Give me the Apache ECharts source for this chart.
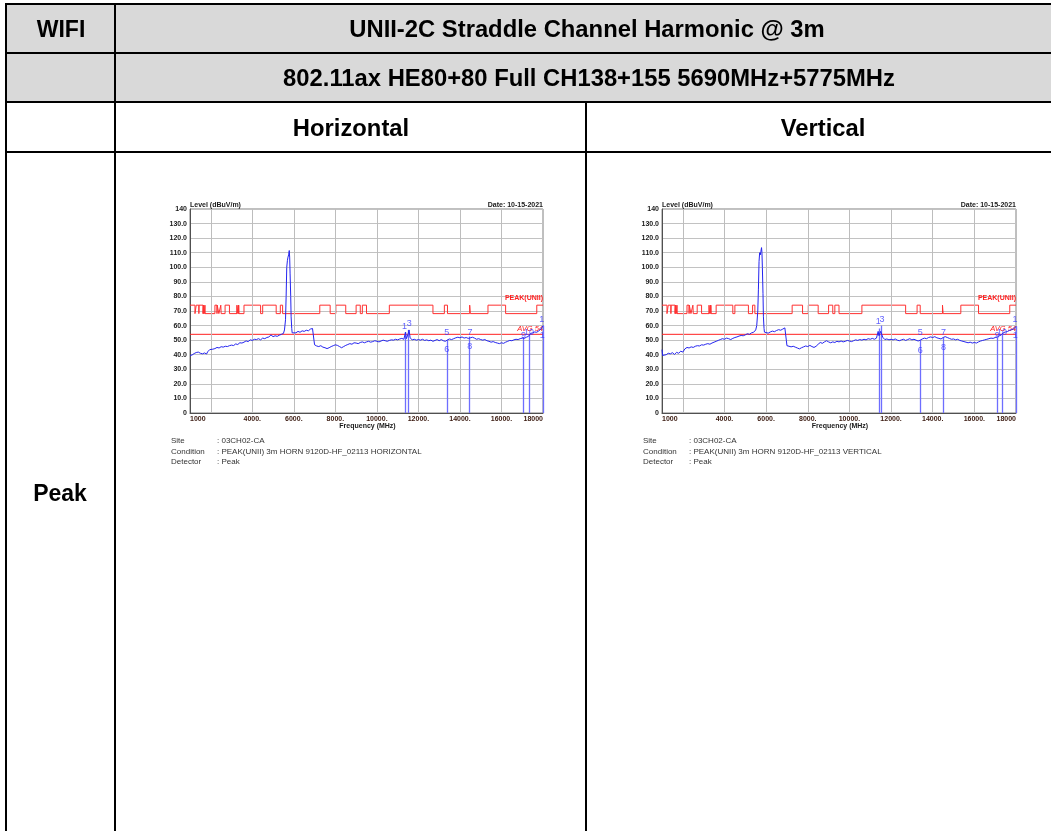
<!DOCTYPE html>
<html><head><meta charset="utf-8">
<script src="https://cdn.jsdelivr.net/npm/echarts@6/dist/echarts.min.js"></script>
<style>html,body{margin:0;padding:0;background:#fff;}#c{width:1051px;height:831px;}</style>
</head><body><div id="c"></div>
<script>
// ---------- data ----------
const freqTickLabels = {1000:'1000',4000:'4000.',6000:'6000.',8000:'8000.',10000:'10000.',12000:'12000.',14000:'14000.',16000:'16000.',18000:'18000'};
const gridFreqs = [2000,4000,6000,8000,10000,12000,14000,16000];
const levelTickLabels = ['0','10.0','20.0','30.0','40.0','50.0','60.0','70.0','80.0','90.0','100.0','110.0','120.0','130.0','140'];
const restrictedBands = [[1000,1240],[1300,1427],[1435,1626.5],[1645.5,1646.5],[1660,1710],[1718.8,1722.2],[2200,2300],[2310,2390],[2483.5,2500],[2690,2900],[3260,3267],[3332,3339],[3345.8,3358],[3600,4400],[4500,5150],[5350,5460],[7250,7750],[8025,8500],[9000,9200],[9300,9500],[10600,12700],[13250,13400],[14470,14500],[15350,16200],[17700,18000]];
const peakLimit = 74, outBandLimit = 68.2, avgLimit = 54;

const traceH = [[1000,39.5],[1050,40.5],[1100,39.8],[1200,40.8],[1300,41.5],[1400,41.8],[1500,41.0],[1600,40.6],[1700,41.2],[1800,40.5],[1850,42.0],[1900,41.4],[1950,43.5],[2000,42.6],[2100,43.8],[2200,44.2],[2300,45.0],[2400,44.6],[2500,45.5],[2600,45.2],[2700,45.8],[2800,45.6],[2900,46.2],[3000,46.6],[3100,46.3],[3200,47.4],[3300,47.0],[3400,48.2],[3500,48.0],[3600,48.6],[3700,49.5],[3800,49.0],[3900,50.2],[4000,49.8],[4100,50.6],[4200,50.4],[4300,51.0],[4400,50.2],[4500,51.4],[4600,51.0],[4700,51.8],[4800,52.2],[4900,53.6],[5000,52.4],[5100,53.0],[5200,52.6],[5300,53.4],[5400,54.0],[5450,53.6],[5500,54.6],[5550,57.0],[5600,64.0],[5630,80.0],[5660,100.0],[5690,104.5],[5720,107.0],[5750,108.5],[5780,111.5],[5800,107.0],[5820,96.0],[5850,80.0],[5870,66.0],[5900,58.0],[5920,55.0],[5950,54.6],[6000,55.6],[6100,55.0],[6200,56.0],[6300,55.4],[6400,56.4],[6500,56.0],[6600,56.8],[6700,56.4],[6800,57.6],[6900,58.0],[6950,57.2],[6970,50.0],[7000,46.8],[7100,46.0],[7200,45.6],[7300,46.2],[7400,45.2],[7500,44.8],[7600,44.2],[7700,44.8],[7800,45.6],[7900,46.2],[8000,46.8],[8100,46.4],[8200,45.6],[8300,44.8],[8400,45.6],[8500,46.4],[8600,47.0],[8700,47.6],[8800,47.2],[8900,48.2],[9000,48.0],[9100,47.6],[9200,48.4],[9300,48.8],[9400,48.2],[9500,48.8],[9600,49.2],[9700,48.6],[9800,49.0],[9900,49.6],[10000,49.2],[10100,48.8],[10200,49.4],[10300,50.0],[10400,49.6],[10500,49.2],[10600,49.8],[10700,50.2],[10800,50.0],[10900,50.6],[11000,50.2],[11100,50.8],[11200,51.2],[11300,50.6],[11380,55.5],[11420,51.0],[11500,54.0],[11550,57.0],[11600,51.6],[11700,50.2],[11800,50.6],[11900,50.0],[12000,50.4],[12100,50.0],[12200,50.6],[12300,49.8],[12400,50.2],[12500,49.6],[12600,50.0],[12700,49.2],[12800,49.8],[12900,50.4],[13000,49.6],[13100,50.4],[13200,49.6],[13300,49.2],[13400,50.2],[13500,50.8],[13600,50.4],[13700,51.0],[13800,51.6],[13900,52.0],[14000,51.6],[14100,52.2],[14200,51.4],[14300,51.8],[14400,51.2],[14470,52.5],[14500,51.6],[14600,52.0],[14700,51.4],[14800,50.6],[14900,51.0],[15000,50.4],[15100,50.0],[15200,50.4],[15300,49.6],[15400,49.2],[15500,48.6],[15600,49.0],[15700,48.4],[15800,48.0],[15900,47.6],[16000,48.2],[16100,47.8],[16200,48.6],[16300,49.2],[16400,49.8],[16500,49.6],[16600,50.2],[16700,50.6],[16800,50.4],[16900,51.0],[17000,51.4],[17070,52.0],[17100,51.2],[17200,52.0],[17300,52.6],[17350,53.8],[17400,54.6],[17500,55.0],[17600,55.6],[17700,55.4],[17800,56.4],[17900,57.6],[17950,58.8],[18000,60.0]];

const traceV = [[1000,43.5],[1030,39.5],[1100,40.6],[1200,40.0],[1300,41.0],[1400,40.6],[1500,41.4],[1600,40.2],[1700,41.6],[1800,41.0],[1900,42.4],[2000,41.8],[2100,44.0],[2200,45.0],[2300,44.6],[2400,45.4],[2500,45.0],[2600,45.8],[2700,46.2],[2800,46.0],[2900,46.8],[3000,46.6],[3100,47.2],[3200,47.6],[3300,47.2],[3400,48.0],[3500,48.6],[3600,49.2],[3700,49.8],[3800,50.4],[3900,51.0],[4000,50.6],[4100,51.4],[4200,51.0],[4300,50.4],[4400,51.2],[4500,51.8],[4600,52.2],[4700,52.8],[4800,53.2],[4900,53.0],[5000,53.6],[5100,54.4],[5200,54.0],[5300,55.0],[5400,55.4],[5450,56.0],[5500,57.0],[5550,60.0],[5600,70.0],[5630,85.0],[5660,104.0],[5690,110.0],[5720,108.5],[5750,111.0],[5780,113.5],[5800,110.0],[5820,100.0],[5850,82.0],[5870,66.0],[5900,58.0],[5920,55.5],[5950,54.8],[6000,55.4],[6100,54.8],[6200,55.6],[6300,56.2],[6400,55.8],[6500,56.6],[6600,57.2],[6700,56.8],[6800,57.6],[6900,58.4],[6950,57.8],[6970,50.0],[7000,46.2],[7100,45.8],[7200,45.4],[7300,45.8],[7400,45.2],[7500,44.6],[7600,44.0],[7700,44.8],[7800,45.4],[7900,46.0],[8000,45.6],[8100,46.4],[8200,45.6],[8300,45.0],[8400,45.8],[8500,47.2],[8600,48.4],[8700,47.8],[8800,48.8],[8900,49.6],[9000,48.8],[9100,48.2],[9200,48.8],[9300,48.4],[9400,49.2],[9500,48.8],[9600,49.4],[9700,48.8],[9800,49.2],[9900,49.8],[10000,49.4],[10100,49.0],[10200,49.6],[10300,50.2],[10400,49.8],[10500,50.4],[10600,50.0],[10700,50.6],[10800,50.2],[10900,51.0],[11000,50.6],[11100,51.2],[11200,50.6],[11300,51.4],[11380,56.0],[11420,53.0],[11500,56.0],[11550,57.0],[11600,52.0],[11700,50.4],[11800,50.8],[11900,50.2],[12000,50.6],[12100,50.2],[12200,50.8],[12300,50.0],[12400,49.6],[12500,50.2],[12600,50.6],[12700,49.8],[12800,50.4],[12900,51.0],[13000,50.2],[13100,50.6],[13200,50.0],[13300,49.4],[13400,50.0],[13500,50.8],[13600,51.4],[13700,51.0],[13800,51.8],[13900,52.2],[14000,51.8],[14100,52.4],[14200,51.6],[14300,51.2],[14400,50.8],[14470,51.0],[14500,51.8],[14600,52.4],[14700,51.8],[14800,51.2],[14900,50.6],[15000,50.8],[15100,50.2],[15200,50.6],[15300,49.8],[15400,49.4],[15500,49.0],[15600,48.6],[15700,48.2],[15800,48.6],[15900,48.0],[16000,48.4],[16100,48.0],[16200,48.8],[16300,49.4],[16400,49.8],[16500,50.2],[16600,50.6],[16700,51.0],[16800,51.4],[16900,51.2],[17000,51.8],[17070,51.6],[17100,52.2],[17200,53.0],[17300,53.6],[17350,54.8],[17400,55.2],[17500,55.6],[17600,56.0],[17700,56.8],[17800,57.2],[17900,57.8],[17950,58.4],[18000,59.5]];

const markersH = [[11380,55.5],[11520,57.0],[13370,50.2],[14470,52.5],[17070,52.0],[17330,53.8],[17990,60.0]];
const markersV = [[11420,58.0],[11550,60.0],[13400,50.0],[14520,51.8],[17120,51.6],[17330,54.8],[17990,59.5]];
const markerLabelsH = [['1',11330,59.5],['3',11560,61.5],['5',13370,55.5],['6',13370,43.5],['7',14490,55.5],['8',14470,45.5],['9',17060,53.5],['10',17330,55.0],['1',17940,64.0],['1',17960,53.0]];
const markerLabelsV = [['1',11380,62.5],['3',11560,64.0],['5',13400,55.0],['6',13400,43.0],['7',14520,55.0],['8',14520,45.0],['9',17100,53.5],['10',17330,55.0],['1',17950,64.0],['1',17960,53.0]];

const infoH = [['Site',': 03CH02-CA'],['Condition',': PEAK(UNII) 3m HORN 9120D-HF_02113 HORIZONTAL'],['Detector',': Peak']];
const infoV = [['Site',': 03CH02-CA'],['Condition',': PEAK(UNII) 3m HORN 9120D-HF_02113 VERTICAL'],['Detector',': Peak']];

// ---------- build ----------
const FF = '"Liberation Sans", Arial, sans-serif';
const CLEAR = 'rgba(0,0,0,0)';
function limitSteps(){
  const pts = [];
  let prev = 1000;
  restrictedBands.forEach(([a,b])=>{
    if (a > prev) { pts.push([prev,outBandLimit]); pts.push([a,outBandLimit]); }
    pts.push([a,peakLimit]); pts.push([b,peakLimit]);
    prev = b;
  });
  if (prev < 18000) { pts.push([prev,outBandLimit]); pts.push([18000,outBandLimit]); }
  return pts;
}
const grids = [
  {left:190, top:209, width:353, height:204, show:true, borderColor:'#808080', borderWidth:1},
  {left:662, top:209, width:354, height:204, show:true, borderColor:'#808080', borderWidth:1}
];
function xAx(gi){ return {type:'value', gridIndex:gi, min:1000, max:18000, interval:1000,
  axisLine:{show:true, onZero:false, lineStyle:{color:'#505050', width:1}}, axisTick:{show:false}, splitLine:{show:false},
  axisLabel:{fontSize:7, fontWeight:'bold', color:'#3a1a10', margin:3, fontFamily:FF, showMinLabel:true, showMaxLabel:true,
    alignMinLabel:'left', alignMaxLabel:'right', formatter: v => freqTickLabels[v] || ''}}; }
function yAx(gi){ return {type:'value', gridIndex:gi, min:0, max:140, interval:10,
  axisLine:{show:true, lineStyle:{color:'#505050', width:1}}, axisTick:{show:false},
  splitLine:{show:true, lineStyle:{color:'#c2c2c2', width:1}},
  axisLabel:{fontSize:7, fontWeight:'bold', color:'#1a1a1a', margin:3, fontFamily:FF, formatter: v => levelTickLabels[Math.round(v/10)]}}; }
function seriesFor(gi, trace, markers, labels){
  return [
    {type:'line', xAxisIndex:gi, yAxisIndex:gi, data:[], silent:true, z:1,
      markLine:{silent:true, symbol:['none','none'], label:{show:false}, animation:false,
        lineStyle:{color:'#bdbdbd', type:'solid', width:1}, data: gridFreqs.map(f=>({xAxis:f}))}},
    {type:'line', xAxisIndex:gi, yAxisIndex:gi, data: limitSteps(), symbol:'none', silent:true, z:3,
      lineStyle:{color:'#ff3030', width:1},
      markLine:{silent:true, symbol:['none','none'], animation:false,
        lineStyle:{color:CLEAR, width:0},
        label:{show:true, position:'insideEndTop', formatter:'PEAK(UNII)', color:'#ff2020', fontSize:7, fontWeight:'bold', fontFamily:FF, distance:[0,1]},
        data:[{yAxis:peakLimit+1.5}]}},
    {type:'line', xAxisIndex:gi, yAxisIndex:gi, data:[[1000,avgLimit],[18000,avgLimit]], symbol:'none', silent:true, z:3,
      lineStyle:{color:'#ff2020', width:1},
      markLine:{silent:true, symbol:['none','none'], animation:false,
        lineStyle:{color:CLEAR, width:0},
        label:{show:true, position:'insideEndTop', formatter:'AVG 54', color:'#ff2020', fontSize:7.5, fontStyle:'italic', fontFamily:FF, distance:[0,1]},
        data:[{yAxis:avgLimit}]}},
    {type:'line', xAxisIndex:gi, yAxisIndex:gi, data:[], silent:true, z:4,
      markLine:{silent:true, symbol:['none','none'], label:{show:false}, animation:false,
        lineStyle:{color:'#6e6eff', type:'solid', width:1.3},
        data: markers.map(([f,v])=>[{coord:[f,0]},{coord:[f,v]}])}},
    {type:'line', xAxisIndex:gi, yAxisIndex:gi, data: trace, symbol:'none', silent:true, z:5,
      lineStyle:{color:'#2424f0', width:1}},
    {type:'scatter', xAxisIndex:gi, yAxisIndex:gi, symbolSize:1, itemStyle:{color:CLEAR}, silent:true, z:6,
      data: labels.map(([t,f,v])=>({name:t, value:[f,v]})),
      label:{show:true, position:'inside', formatter:'{b}', color:'#3a3aff', fontSize:9, fontFamily:FF}}
  ];
}

// ---------- table & text graphics ----------
const G = [];
G.push({type:'rect', shape:{x:6, y:4, width:1060, height:98}, style:{fill:'#d9d9d9'}, z:0});
[4,53,102,152].forEach(y=>G.push({type:'line', shape:{x1:5, y1:y, x2:1060, y2:y}, style:{stroke:'#000', lineWidth:2}, z:1}));
G.push({type:'line', shape:{x1:6, y1:3, x2:6, y2:840}, style:{stroke:'#000', lineWidth:2}, z:1});
G.push({type:'line', shape:{x1:115, y1:3, x2:115, y2:840}, style:{stroke:'#000', lineWidth:2}, z:1});
G.push({type:'line', shape:{x1:586, y1:102, x2:586, y2:840}, style:{stroke:'#000', lineWidth:2}, z:1});
function T(text, x, y, size, opts){
  G.push({type:'text', z:2, style:Object.assign({text, x, y, align:'center', verticalAlign:'middle', fontSize:size, fontWeight:'bold', fontFamily:FF, fill:'#000'}, opts||{})});
}
T('WIFI', 61, 30.5, 23);
T('UNII-2C Straddle Channel Harmonic @ 3m', 587, 30.5, 23.8);
T('802.11ax HE80+80 Full CH138+155 5690MHz+5775MHz', 589, 79, 23.8);
T('Horizontal', 351, 129, 23.8);
T('Vertical', 823, 129, 23.8);
T('Peak', 60, 494.5, 23);
function chartTexts(left, right, info){
  T('Level (dBuV/m)', left, 205, 7, {align:'left', fill:'#1a1a1a'});
  T('Date: 10-15-2021', right, 205, 7, {align:'right', fill:'#1a1a1a'});
  T('Frequency (MHz)', (left+right)/2+1, 426, 7, {fill:'#1a1a1a'});
  info.forEach(([k,v],i)=>{
    T(k, left-19, 441+i*10.5, 8, {align:'left', fontWeight:'normal', fill:'#333'});
    T(v, left+27, 441+i*10.5, 8, {align:'left', fontWeight:'normal', fill:'#333'});
  });
}
chartTexts(190, 543, infoH);
chartTexts(662, 1016, infoV);

const option = {
  animation:false,
  backgroundColor:'#fff',
  grid: grids,
  xAxis:[xAx(0), xAx(1)],
  yAxis:[yAx(0), yAx(1)],
  series:[...seriesFor(0, traceH, markersH, markerLabelsH), ...seriesFor(1, traceV, markersV, markerLabelsV)],
  graphic: G
};
const chart = echarts.init(document.getElementById('c'));
chart.setOption(option);
</script></body></html>
